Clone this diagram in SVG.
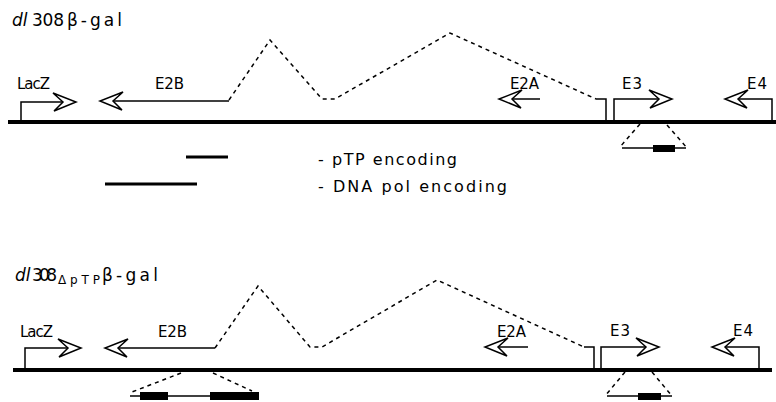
<svg xmlns="http://www.w3.org/2000/svg" width="776" height="402" viewBox="0 0 776 402">
<defs>
<style>
.ln{stroke:#000;stroke-width:1.5;fill:none}
.dna{stroke:#000;stroke-width:4;fill:none}
.dash{stroke:#000;stroke-width:1.5;fill:none;stroke-dasharray:4 4}
.leg{stroke:#000;stroke-width:3;fill:none}
.box{fill:#000}
.lbl{font-family:"DejaVu Sans","Liberation Sans",sans-serif;font-size:15px;fill:#000}
.lg{font-family:"DejaVu Sans","Liberation Sans",sans-serif;font-size:16px;fill:#000}
.ttl{font-family:"DejaVu Sans","Liberation Sans",sans-serif;font-size:17px;fill:#000}
</style>
<polygon id="chev" points="-23,-9 0,0 -22,9 -13,0" fill="#fff" stroke="#000" stroke-width="1.5" stroke-linejoin="miter"/>
</defs>
<rect width="776" height="402" fill="#fff"/>

<!-- Top panel -->
<g id="title1">
<text class="ttl" y="26"><tspan x="12" font-style="italic">dl</tspan><tspan x="32" textLength="32">308</tspan><tspan x="67" textLength="55">β-gal</tspan></text>
</g>
<g id="dna1"><line class="dna" x1="8" y1="122" x2="776" y2="122"/></g>
<g id="connectors1">
<path class="dash" d="M229,100 L270,40 L322,99 L335,99 L450,33 L596,99"/>
<polyline class="ln" points="596,99 606,99 606,122"/>
</g>
<g id="lacZ1">
<polyline class="ln" points="21,122 21,102 63,102"/>
<use href="#chev" transform="translate(76,102)"/>
<text class="lbl" x="17" y="89" textLength="33">LacZ</text>
</g>
<g id="e2b1">
<line class="ln" x1="229" y1="101" x2="113" y2="101"/>
<use href="#chev" transform="translate(100,101) scale(-1,1)"/>
<text class="lbl" x="155" y="89" textLength="29">E2B</text>
</g>
<g id="e2a1">
<line class="ln" x1="540" y1="99" x2="512" y2="99"/>
<use href="#chev" transform="translate(499,99) scale(-1,1)"/>
<text class="lbl" x="510" y="89" textLength="29">E2A</text>
</g>
<g id="e31">
<polyline class="ln" points="614,122 614,99 659,99"/>
<use href="#chev" transform="translate(672,99)"/>
<text class="lbl" x="622" y="89" textLength="20">E3</text>
</g>
<g id="e41">
<polyline class="ln" points="772,122 772,99 738,99"/>
<use href="#chev" transform="translate(725,99) scale(-1,1)"/>
<text class="lbl" x="747" y="89" textLength="20">E4</text>
</g>
<g id="e3del1">
<line class="dash" x1="640" y1="124" x2="620" y2="147"/>
<line class="dash" x1="667" y1="125" x2="687" y2="148"/>
<line class="ln" x1="622" y1="148" x2="686" y2="148"/>
<rect class="box" x="653" y="145" width="22" height="7"/>
</g>
<g id="legend">
<line class="leg" x1="186" y1="157" x2="228" y2="157"/>
<line class="leg" x1="105" y1="184" x2="197" y2="184"/>
<text class="lg" x="318" y="165" textLength="139" lengthAdjust="spacing">- pTP encoding</text>
<text class="lg" x="318" y="192" textLength="189" lengthAdjust="spacing">- DNA pol encoding</text>
</g>

<!-- Bottom panel -->
<g id="title2">
<text class="ttl" y="281"><tspan x="15" font-style="italic">dl</tspan><tspan x="32" textLength="25">308</tspan><tspan x="58" y="284" font-size="12" textLength="42">ΔpTP</tspan><tspan x="102" y="281" textLength="56">β-gal</tspan></text>
</g>
<g id="dna2"><line class="dna" x1="13" y1="370" x2="772" y2="370"/></g>
<g id="connectors2">
<path class="dash" d="M215,348 L258,286 L310,347 L322,347 L437,280 L584,347"/>
<polyline class="ln" points="584,347 594,347 594,370"/>
</g>
<g id="lacZ2">
<polyline class="ln" points="25,370 25,348 68,348"/>
<use href="#chev" transform="translate(81,348)"/>
<text class="lbl" x="20" y="337" textLength="33">LacZ</text>
</g>
<g id="e2b2">
<line class="ln" x1="215" y1="348" x2="118" y2="348"/>
<use href="#chev" transform="translate(105,348) scale(-1,1)"/>
<text class="lbl" x="158" y="337" textLength="29">E2B</text>
</g>
<g id="e2a2">
<line class="ln" x1="528" y1="347" x2="498" y2="347"/>
<use href="#chev" transform="translate(485,347) scale(-1,1)"/>
<text class="lbl" x="497" y="337" textLength="29">E2A</text>
</g>
<g id="e32">
<polyline class="ln" points="601,370 601,347 646,347"/>
<use href="#chev" transform="translate(659,347)"/>
<text class="lbl" x="610" y="336" textLength="20">E3</text>
</g>
<g id="e42">
<polyline class="ln" points="759,370 759,347 725,347"/>
<use href="#chev" transform="translate(712,347) scale(-1,1)"/>
<text class="lbl" x="733" y="336" textLength="20">E4</text>
</g>
<g id="e3del2">
<line class="dash" x1="625" y1="372" x2="605" y2="396"/>
<line class="dash" x1="652" y1="372" x2="672" y2="396"/>
<line class="ln" x1="607" y1="396" x2="672" y2="396"/>
<rect class="box" x="638" y="393" width="23" height="7"/>
</g>
<g id="ptpdel2">
<line class="dash" x1="181" y1="373" x2="132" y2="392"/>
<line class="dash" x1="213" y1="373" x2="252" y2="391"/>
<line class="ln" x1="130" y1="396" x2="258" y2="396"/>
<rect class="box" x="140" y="392" width="28" height="8"/>
<rect class="box" x="210" y="392" width="49" height="8"/>
</g>
</svg>
